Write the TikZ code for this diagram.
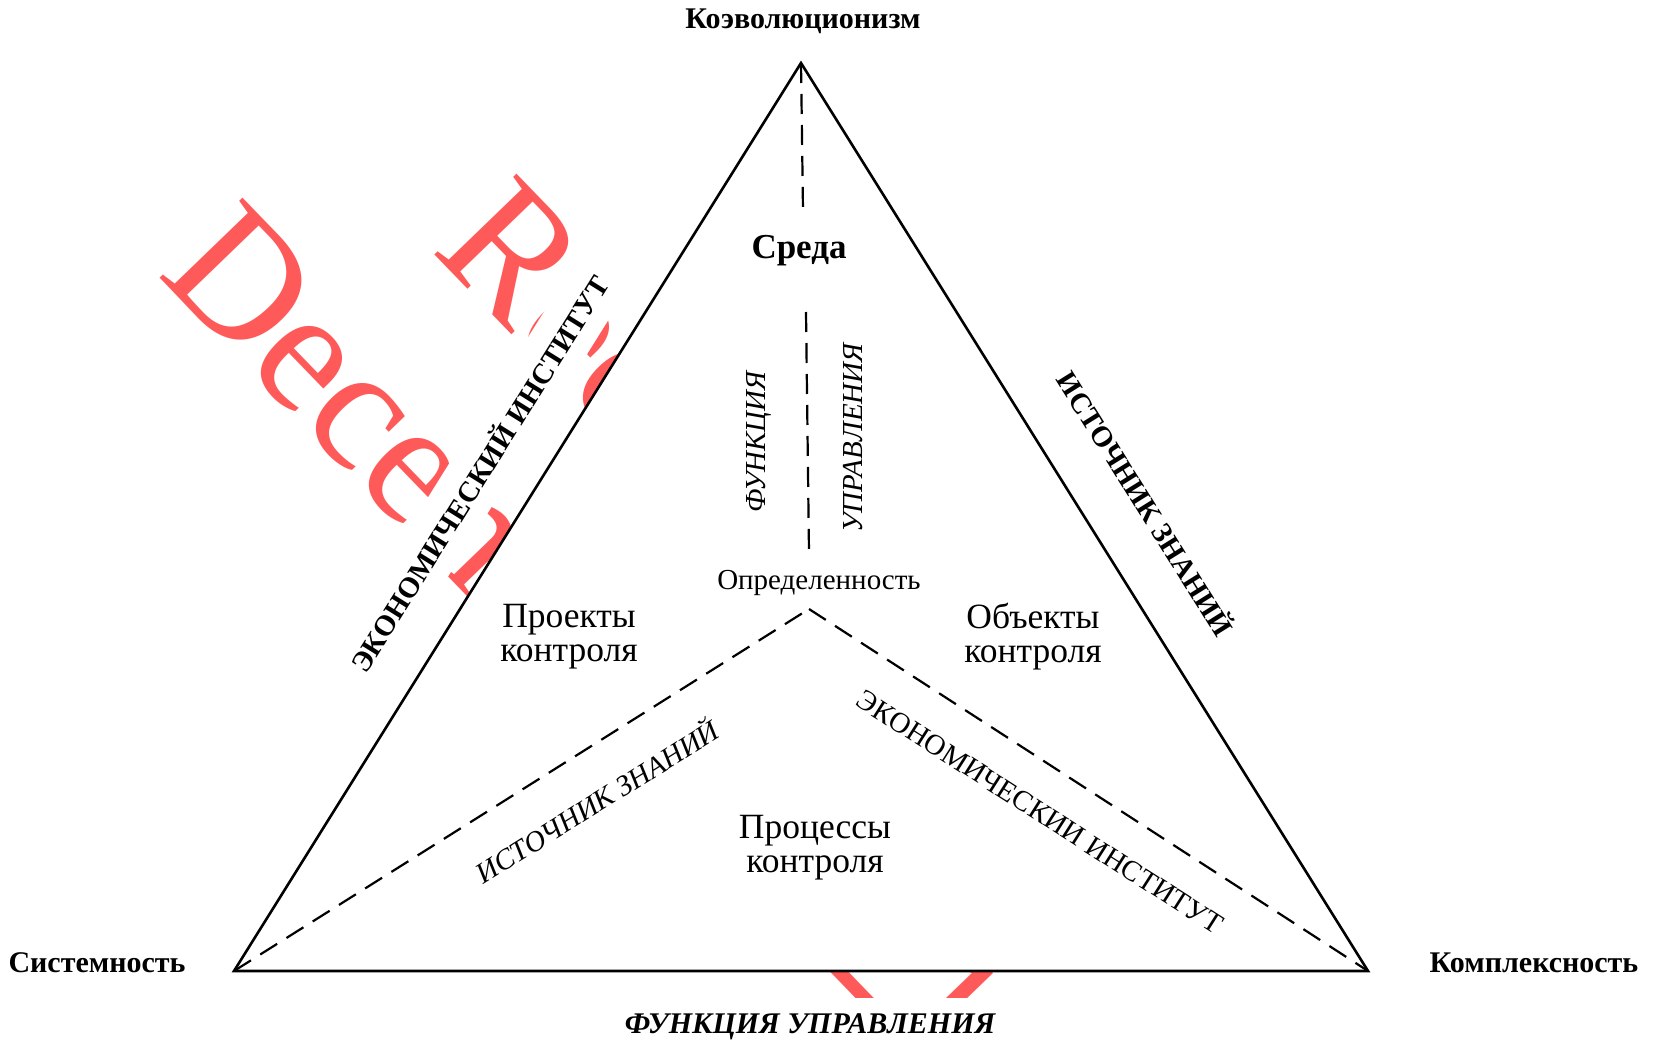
\documentclass[tikz,border=0pt]{standalone}
\usepackage{fontspec}
\setmainfont{Liberation Serif}
\definecolor{wm}{RGB}{255,90,90}
\begin{document}
\begin{tikzpicture}[x=1pt,y=-1pt]
\tikzset{
  edgeline/.style={line width=2.6pt, line join=miter},
  dashline/.style={line width=2.2pt, dash pattern=on 20pt off 11pt},
  corner/.style={inner sep=2pt, font=\fontsize{30}{34}\selectfont\bfseries},
  areabox/.style={align=center, inner sep=0pt, font=\fontsize{35.5}{34}\selectfont},
  sidebold/.style={fill=white, inner xsep=4pt, inner ysep=17pt, font=\fontsize{29}{34}\selectfont\bfseries},
  sideital/.style={inner sep=2pt, font=\fontsize{29}{34}\selectfont\itshape},
  sideup/.style={inner sep=2pt, font=\fontsize{29}{34}\selectfont},
  wmark/.style={text=wm, inner sep=0pt, font=\fontsize{176}{176}\selectfont},
}
\useasboundingbox (0,0) rectangle (1653,1043);
% watermark (mostly hidden)
\node[wmark, rotate=-46, anchor=base west] (wm1) at (430,250) {Received};
\node[wmark, rotate=-46, anchor=base west] (wm2) at (156,274) {December 2021};
% points
\coordinate (A) at (801,63);
\coordinate (L) at (234,971);
\coordinate (R) at (1368,971);
\coordinate (O) at (809,609);
\coordinate (T1) at (803,211);
\coordinate (T2) at (806,312);
\coordinate (T3) at (809,553);
\fill[white] (A) -- (L) -- (R) -- cycle;
% side labels with white boxes
\node[sidebold, rotate=58] (econ) at (478,473) {ЭКОНОМИЧЕСКИЙ ИНСТИТУТ};
\node[sidebold, rotate=-58] (know) at (1147,503) {ИСТОЧНИК ЗНАНИЙ};
\node[sidebold, font=\fontsize{30}{34}\selectfont\bfseries\itshape, inner xsep=12pt, inner ysep=16pt] (func) at (810,1027) {ФУНКЦИЯ УПРАВЛЕНИЯ};
% triangle
\draw[edgeline] (A) -- (L) -- (R) -- cycle;
% dashed lines
\draw[dashline] (A) -- (T1);
\draw[dashline] (T2) -- (T3);
\draw[dashline] (L) -- (O);
\draw[dashline] (O) -- (R);
% corner labels
\node[corner] (koev) at (803,21) {Коэволюционизм};
\node[corner] (sist) at (97,963) {Системность};
\node[corner] (kompl) at (1534,963) {Комплексность};
% inner labels
\node[font=\fontsize{35}{38}\selectfont\bfseries, inner sep=0pt] (sreda) at (799,251) {Среда};
\node[font=\fontsize{29}{32}\selectfont, inner sep=0pt] (opr) at (819,583) {Определенность};
\node[areabox] (proj) at (569,637) {Проекты\\контроля};
\node[areabox] (obj) at (1033,637) {Объекты\\контроля};
\node[areabox] (proc) at (815,848) {Процессы\\контроля};
\node[sideital, rotate=90] (fn) at (759,442) {ФУНКЦИЯ};
\node[sideital, rotate=90] (upr) at (853,438) {УПРАВЛЕНИЯ};
\node[sideital, rotate=32] (know2) at (596,800) {ИСТОЧНИК ЗНАНИЙ};
\node[sideup, rotate=-32.6] (econ2) at (1040,812) {ЭКОНОМИЧЕСКИИ ИНСТИТУТ};
\end{tikzpicture}
\end{document}
